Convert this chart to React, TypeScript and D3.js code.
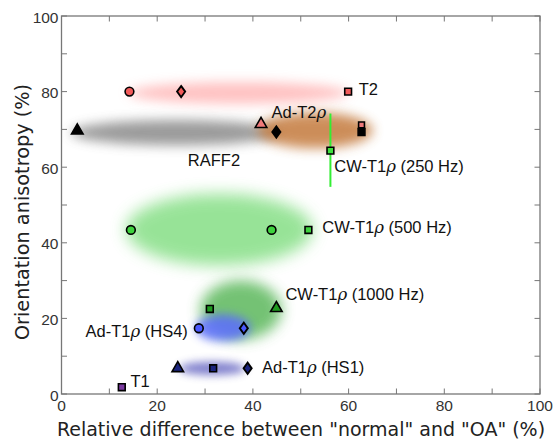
import React from "react";
import * as d3 from "d3";

// blobs: x range, y range (data units) of each sequence's spread
const blobNames = ["T2", "RAFF2", "Ad-T2rho", "CW500", "CW1000", "HS4", "HS1"];
const blobX = [[14, 60], [2, 46], [41, 65], [13.5, 52.5], [29, 46], [28, 39.5], [24.5, 38.5]];
const blobY = [[76.8, 82.5], [65.8, 72.5], [65, 74.5], [34, 53], [14.5, 30], [14, 21], [5, 8.5]];
const blobColors = ["#ffb8b8", "#8a8a8a", "#c47a3e", "#86df86", "#5cb85c", "#5b6cff", "#6a6ac4"];
const blobBlur = [6, 6, 6, 8, 7, 5, 4];

// points per sequence
const seriesNames = ["T2", "RAFF2", "Ad-T2rho", "CW250", "CW500", "CW1000", "HS4", "HS1", "T1"];
const seriesColors = ["#f25a5a", "#000000", "#f07a7a", "#3ee03e", "#3ed23e", "#1f9a1f", "#4a58ff", "#1a237e", "#7b3aa0"];
const seriesX = [[14.2, 25, 59.9], [3.3, 44.9, 62.7], [41.7, 62.7], [56.2], [14.5, 43.9, 51.6], [31, 44.9], [28.7, 38.1], [24.3, 31.7, 38.9], [12.6]];
const seriesY = [[80, 80, 80], [69.7, 69.3, 69.3], [71.4, 71.2], [64.4], [43.4, 43.4, 43.4], [22.5, 22.7], [17.4, 17.4], [6.8, 6.8, 6.8], [1.8]];
const seriesShape = [["circle", "diamond", "square"], ["triangle", "diamond", "square"], ["triangle", "square"], ["square"], ["circle", "circle", "square"], ["square", "triangle"], ["circle", "diamond"], ["triangle", "square", "diamond"], ["square"]];

// CW 250 Hz error range
const errX = 56.2;
const errY = [54.8, 74.2];

// labels
const labelText = ["T2", "RAFF2", "Ad-T2", "CW-T1", "CW-T1", "CW-T1", "Ad-T1", "Ad-T1", "T1"];
const labelRho = [false, false, true, true, true, true, true, true, false];
const labelTail = ["", "", "", " (250 Hz)", " (500 Hz)", " (1000 Hz)", " (HS4)", " (HS1)", ""];
const labelX = [62.1, 26.4, 43.9, 57.0, 54.5, 46.8, 26.4, 41.9, 14.4];
const labelY = [79.1, 60.3, 73.0, 58.7, 42.6, 24.9, 15.1, 5.6, 1.9];

const xTicks = [0, 20, 40, 60, 80, 100];
const yTicks = [0, 20, 40, 60, 80, 100];
const minorTicks = [10, 30, 50, 70, 90];

const symbols: Record<string, d3.SymbolType> = {
    circle: d3.symbolCircle,
    square: d3.symbolSquare,
    diamond: d3.symbolDiamond,
    triangle: d3.symbolTriangle,
};
const symbolSize: Record<string, number> = {circle: 60, square: 46, diamond: 36, triangle: 58};

export default function App() {
    const width = 554
    const height = 441
    const left = 61.5
    const right = 540
    const top = 16
    const bottom = 394
    const x = d3.scaleLinear([0, 100], [left, right]);
    const y = d3.scaleLinear([0, 100], [bottom, top]);
    const tickLen = 5.5
    const axisColor = "#777"

    return (
        <svg width={width} height={height} style={{position: "absolute", left: 0, top: 0}}>
            <defs>
                {blobBlur.map((b, i) => (
                    <filter key={i} id={"blur" + i} x="-50%" y="-100%" width="200%" height="300%">
                        <feGaussianBlur stdDeviation={b}/>
                    </filter>
                ))}
            </defs>
            <rect x={0} y={0} width={width} height={height} fill="white"/>
            {blobNames.map((n, i) => (
                <ellipse key={n}
                         cx={x((blobX[i][0] + blobX[i][1]) / 2)}
                         cy={y((blobY[i][0] + blobY[i][1]) / 2)}
                         rx={(x(blobX[i][1]) - x(blobX[i][0])) / 2}
                         ry={(y(blobY[i][0]) - y(blobY[i][1])) / 2}
                         fill={blobColors[i]} opacity={0.85} filter={`url(#blur${i})`}/>
            ))}
            {/* frame and ticks */}
            <rect x={left} y={top} width={right - left} height={bottom - top} fill="none" stroke={axisColor} strokeWidth={1.3}/>
            <g stroke={axisColor} strokeWidth={1}>
                {[...xTicks, ...minorTicks].map(t => (
                    <g key={"x" + t}>
                        <line x1={x(t)} x2={x(t)} y1={bottom} y2={bottom - tickLen}/>
                        <line x1={x(t)} x2={x(t)} y1={top} y2={top + tickLen}/>
                    </g>
                ))}
                {[...yTicks, ...minorTicks].map(t => (
                    <g key={"y" + t}>
                        <line x1={left} x2={left + tickLen} y1={y(t)} y2={y(t)}/>
                        <line x1={right} x2={right - tickLen} y1={y(t)} y2={y(t)}/>
                    </g>
                ))}
            </g>
            <g fontFamily="Liberation Sans, Arial, sans-serif" fontSize={15.5} fill="#333">
                {xTicks.map(t => (
                    <text key={t} x={x(t)} y={bottom + 17} textAnchor="middle">{t}</text>
                ))}
                {yTicks.map(t => (
                    <text key={t} x={left - 3} y={y(t) + 6.5} textAnchor="end">{t}</text>
                ))}
            </g>
            <text x={301} y={436} textAnchor="middle" fontFamily="DejaVu Sans" fontSize={19} fill="#222">
                Relative difference between "normal" and "OA" (%)
            </text>
            <text transform={`translate(29,212) rotate(-90)`} textAnchor="middle"
                  fontFamily="DejaVu Sans" fontSize={19.3} fill="#222">
                Orientation anisotropy (%)
            </text>
            <line x1={x(errX)} x2={x(errX)} y1={y(errY[0])} y2={y(errY[1])} stroke="#33ee33" strokeWidth={2}/>
            {seriesNames.map((n, i) => (
                <g key={n}>
                    {seriesX[i].map((v, j) => {
                        const sh = seriesShape[i][j];
                        const small = n === "Ad-T2rho" && sh === "square";
                        const path = d3.symbol(symbols[sh], small ? 34 : symbolSize[sh])() as string;
                        return (
                            <path key={j} d={path} transform={`translate(${x(v)},${y(seriesY[i][j])})${sh === "diamond" ? " scale(1.26,1)" : ""}`}
                                  fill={seriesColors[i]} stroke="#000" strokeWidth={1.6}/>
                        );
                    })}
                </g>
            ))}
            <g fontFamily="Liberation Sans, Arial, sans-serif" fontSize={16.5} fill="#111">
                {labelText.map((t, i) => (
                    <text key={i} x={x(labelX[i])} y={y(labelY[i])} textAnchor={i === 6 ? "end" : "start"}>
                        {t}
                        {labelRho[i] && <tspan fontFamily="DejaVu Serif" fontStyle="italic">ρ</tspan>}
                        {labelTail[i]}
                    </text>
                ))}
            </g>
        </svg>
    )
}
